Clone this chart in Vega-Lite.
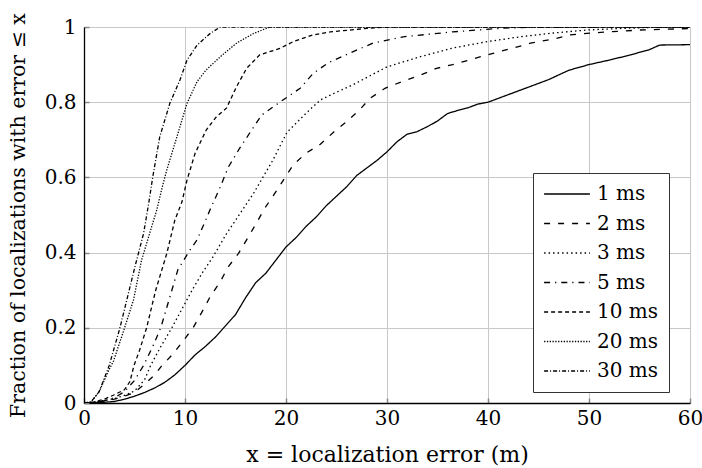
{
  "$schema": "https://vega.github.io/schema/vega-lite/v6.json",
  "width": 606,
  "height": 376,
  "autosize": {"type": "none"},
  "padding": {"left": 84, "top": 27, "right": 12, "bottom": 65},
  "background": "white",
  "config": {
    "view": {"stroke": null},
    "font": "DejaVu Serif",
    "axis": {
      "labelFont": "DejaVu Serif",
      "titleFont": "DejaVu Serif",
      "labelFontSize": 20,
      "titleFontSize": 22,
      "titleFontWeight": "normal",
      "labelColor": "black",
      "titleColor": "black",
      "gridColor": "#c8c8c8",
      "gridWidth": 1,
      "domainColor": "black",
      "domainWidth": 1.3,
      "tickColor": "#888888",
      "tickSize": -5,
      "tickWidth": 1.5
    },
    "legend": {
      "labelFont": "DejaVu Serif",
      "labelFontSize": 20,
      "labelColor": "black"
    }
  },
  "data": {
    "values": [
      {"s": "1 ms", "x": 0, "y": 0}, {"s": "1 ms", "x": 2, "y": 0.002}, {"s": "1 ms", "x": 3, "y": 0.004}, {"s": "1 ms", "x": 4, "y": 0.01}, {"s": "1 ms", "x": 5, "y": 0.018}, {"s": "1 ms", "x": 6, "y": 0.028}, {"s": "1 ms", "x": 7, "y": 0.04}, {"s": "1 ms", "x": 8, "y": 0.055}, {"s": "1 ms", "x": 9, "y": 0.075}, {"s": "1 ms", "x": 10, "y": 0.1}, {"s": "1 ms", "x": 11, "y": 0.128}, {"s": "1 ms", "x": 12, "y": 0.15}, {"s": "1 ms", "x": 13, "y": 0.175}, {"s": "1 ms", "x": 14, "y": 0.205}, {"s": "1 ms", "x": 15, "y": 0.235}, {"s": "1 ms", "x": 16, "y": 0.28}, {"s": "1 ms", "x": 17, "y": 0.32}, {"s": "1 ms", "x": 18, "y": 0.345}, {"s": "1 ms", "x": 19, "y": 0.38}, {"s": "1 ms", "x": 20, "y": 0.415}, {"s": "1 ms", "x": 21, "y": 0.44}, {"s": "1 ms", "x": 22, "y": 0.47}, {"s": "1 ms", "x": 23, "y": 0.495}, {"s": "1 ms", "x": 24, "y": 0.525}, {"s": "1 ms", "x": 25, "y": 0.55}, {"s": "1 ms", "x": 26, "y": 0.575}, {"s": "1 ms", "x": 27, "y": 0.605}, {"s": "1 ms", "x": 28, "y": 0.625}, {"s": "1 ms", "x": 29, "y": 0.645}, {"s": "1 ms", "x": 30, "y": 0.668}, {"s": "1 ms", "x": 31, "y": 0.695}, {"s": "1 ms", "x": 32, "y": 0.715}, {"s": "1 ms", "x": 33, "y": 0.722}, {"s": "1 ms", "x": 34, "y": 0.735}, {"s": "1 ms", "x": 35, "y": 0.75}, {"s": "1 ms", "x": 36, "y": 0.77}, {"s": "1 ms", "x": 37, "y": 0.778}, {"s": "1 ms", "x": 38, "y": 0.785}, {"s": "1 ms", "x": 39, "y": 0.795}, {"s": "1 ms", "x": 40, "y": 0.8}, {"s": "1 ms", "x": 42, "y": 0.82}, {"s": "1 ms", "x": 44, "y": 0.84}, {"s": "1 ms", "x": 45, "y": 0.85}, {"s": "1 ms", "x": 46, "y": 0.86}, {"s": "1 ms", "x": 48, "y": 0.885}, {"s": "1 ms", "x": 50, "y": 0.9}, {"s": "1 ms", "x": 52, "y": 0.912}, {"s": "1 ms", "x": 54, "y": 0.925}, {"s": "1 ms", "x": 56, "y": 0.94}, {"s": "1 ms", "x": 57, "y": 0.952}, {"s": "1 ms", "x": 60, "y": 0.953},

      {"s": "2 ms", "x": 0, "y": 0}, {"s": "2 ms", "x": 1, "y": 0.002}, {"s": "2 ms", "x": 2, "y": 0.005}, {"s": "2 ms", "x": 3, "y": 0.01}, {"s": "2 ms", "x": 4, "y": 0.018}, {"s": "2 ms", "x": 5, "y": 0.028}, {"s": "2 ms", "x": 6, "y": 0.05}, {"s": "2 ms", "x": 7, "y": 0.075}, {"s": "2 ms", "x": 7.7, "y": 0.099}, {"s": "2 ms", "x": 8.8, "y": 0.13}, {"s": "2 ms", "x": 9.9, "y": 0.168}, {"s": "2 ms", "x": 10.8, "y": 0.2}, {"s": "2 ms", "x": 11.7, "y": 0.243}, {"s": "2 ms", "x": 12.5, "y": 0.283}, {"s": "2 ms", "x": 13.5, "y": 0.323}, {"s": "2 ms", "x": 14.3, "y": 0.363}, {"s": "2 ms", "x": 15.3, "y": 0.398}, {"s": "2 ms", "x": 16.1, "y": 0.434}, {"s": "2 ms", "x": 17.1, "y": 0.48}, {"s": "2 ms", "x": 17.9, "y": 0.518}, {"s": "2 ms", "x": 19.1, "y": 0.566}, {"s": "2 ms", "x": 20.7, "y": 0.633}, {"s": "2 ms", "x": 22, "y": 0.665}, {"s": "2 ms", "x": 23.4, "y": 0.688}, {"s": "2 ms", "x": 24.7, "y": 0.72}, {"s": "2 ms", "x": 26, "y": 0.748}, {"s": "2 ms", "x": 27.3, "y": 0.78}, {"s": "2 ms", "x": 28.3, "y": 0.81}, {"s": "2 ms", "x": 29.8, "y": 0.837}, {"s": "2 ms", "x": 31.5, "y": 0.855}, {"s": "2 ms", "x": 33.3, "y": 0.872}, {"s": "2 ms", "x": 34.9, "y": 0.89}, {"s": "2 ms", "x": 36.5, "y": 0.9}, {"s": "2 ms", "x": 38.5, "y": 0.915}, {"s": "2 ms", "x": 40.5, "y": 0.93}, {"s": "2 ms", "x": 42.5, "y": 0.944}, {"s": "2 ms", "x": 44.2, "y": 0.957}, {"s": "2 ms", "x": 46.5, "y": 0.968}, {"s": "2 ms", "x": 48.1, "y": 0.979}, {"s": "2 ms", "x": 50.8, "y": 0.985}, {"s": "2 ms", "x": 55, "y": 0.992}, {"s": "2 ms", "x": 60, "y": 0.996},

      {"s": "3 ms", "x": 0, "y": 0}, {"s": "3 ms", "x": 1, "y": 0.002}, {"s": "3 ms", "x": 2, "y": 0.006}, {"s": "3 ms", "x": 3, "y": 0.012}, {"s": "3 ms", "x": 4, "y": 0.02}, {"s": "3 ms", "x": 5, "y": 0.032}, {"s": "3 ms", "x": 6, "y": 0.062}, {"s": "3 ms", "x": 6.6, "y": 0.1}, {"s": "3 ms", "x": 7.6, "y": 0.15}, {"s": "3 ms", "x": 8.7, "y": 0.2}, {"s": "3 ms", "x": 9.7, "y": 0.25}, {"s": "3 ms", "x": 10.7, "y": 0.3}, {"s": "3 ms", "x": 11.8, "y": 0.35}, {"s": "3 ms", "x": 12.8, "y": 0.39}, {"s": "3 ms", "x": 14.1, "y": 0.45}, {"s": "3 ms", "x": 15.1, "y": 0.49}, {"s": "3 ms", "x": 16.8, "y": 0.558}, {"s": "3 ms", "x": 18.7, "y": 0.646}, {"s": "3 ms", "x": 20.1, "y": 0.72}, {"s": "3 ms", "x": 22, "y": 0.771}, {"s": "3 ms", "x": 23.4, "y": 0.806}, {"s": "3 ms", "x": 24.4, "y": 0.819}, {"s": "3 ms", "x": 26.6, "y": 0.846}, {"s": "3 ms", "x": 30, "y": 0.894}, {"s": "3 ms", "x": 33.3, "y": 0.921}, {"s": "3 ms", "x": 36.5, "y": 0.944}, {"s": "3 ms", "x": 39.9, "y": 0.961}, {"s": "3 ms", "x": 43.2, "y": 0.974}, {"s": "3 ms", "x": 46.5, "y": 0.984}, {"s": "3 ms", "x": 49.8, "y": 0.992}, {"s": "3 ms", "x": 53, "y": 0.996}, {"s": "3 ms", "x": 56.3, "y": 0.999}, {"s": "3 ms", "x": 60, "y": 1},

      {"s": "5 ms", "x": 0, "y": 0}, {"s": "5 ms", "x": 1, "y": 0.002}, {"s": "5 ms", "x": 2, "y": 0.006}, {"s": "5 ms", "x": 3, "y": 0.014}, {"s": "5 ms", "x": 4, "y": 0.03}, {"s": "5 ms", "x": 5, "y": 0.06}, {"s": "5 ms", "x": 5.9, "y": 0.1}, {"s": "5 ms", "x": 6.8, "y": 0.15}, {"s": "5 ms", "x": 7.6, "y": 0.2}, {"s": "5 ms", "x": 8.7, "y": 0.3}, {"s": "5 ms", "x": 9.3, "y": 0.355}, {"s": "5 ms", "x": 10.5, "y": 0.407}, {"s": "5 ms", "x": 11.2, "y": 0.434}, {"s": "5 ms", "x": 12.1, "y": 0.49}, {"s": "5 ms", "x": 12.5, "y": 0.515}, {"s": "5 ms", "x": 13.5, "y": 0.575}, {"s": "5 ms", "x": 14.3, "y": 0.628}, {"s": "5 ms", "x": 15.4, "y": 0.677}, {"s": "5 ms", "x": 16.6, "y": 0.726}, {"s": "5 ms", "x": 17.6, "y": 0.766}, {"s": "5 ms", "x": 19.7, "y": 0.806}, {"s": "5 ms", "x": 21.4, "y": 0.837}, {"s": "5 ms", "x": 22.7, "y": 0.877}, {"s": "5 ms", "x": 24.2, "y": 0.905}, {"s": "5 ms", "x": 26.6, "y": 0.934}, {"s": "5 ms", "x": 28.6, "y": 0.957}, {"s": "5 ms", "x": 31.6, "y": 0.974}, {"s": "5 ms", "x": 36.5, "y": 0.987}, {"s": "5 ms", "x": 41.5, "y": 0.997}, {"s": "5 ms", "x": 45, "y": 1}, {"s": "5 ms", "x": 60, "y": 1},

      {"s": "10 ms", "x": 0, "y": 0}, {"s": "10 ms", "x": 1, "y": 0.003}, {"s": "10 ms", "x": 2, "y": 0.01}, {"s": "10 ms", "x": 3, "y": 0.022}, {"s": "10 ms", "x": 4, "y": 0.035}, {"s": "10 ms", "x": 4.55, "y": 0.057}, {"s": "10 ms", "x": 4.95, "y": 0.1}, {"s": "10 ms", "x": 5.5, "y": 0.14}, {"s": "10 ms", "x": 6.2, "y": 0.2}, {"s": "10 ms", "x": 7.1, "y": 0.3}, {"s": "10 ms", "x": 8.2, "y": 0.398}, {"s": "10 ms", "x": 9, "y": 0.487}, {"s": "10 ms", "x": 9.7, "y": 0.535}, {"s": "10 ms", "x": 10.2, "y": 0.593}, {"s": "10 ms", "x": 11, "y": 0.664}, {"s": "10 ms", "x": 12.1, "y": 0.726}, {"s": "10 ms", "x": 13.1, "y": 0.761}, {"s": "10 ms", "x": 14.1, "y": 0.784}, {"s": "10 ms", "x": 15.1, "y": 0.841}, {"s": "10 ms", "x": 16.1, "y": 0.89}, {"s": "10 ms", "x": 17.4, "y": 0.926}, {"s": "10 ms", "x": 19.4, "y": 0.943}, {"s": "10 ms", "x": 20.7, "y": 0.961}, {"s": "10 ms", "x": 22.7, "y": 0.979}, {"s": "10 ms", "x": 24.4, "y": 0.987}, {"s": "10 ms", "x": 28.3, "y": 0.997}, {"s": "10 ms", "x": 30, "y": 1}, {"s": "10 ms", "x": 60, "y": 1},

      {"s": "20 ms", "x": 0, "y": 0}, {"s": "20 ms", "x": 0.7, "y": 0.003}, {"s": "20 ms", "x": 1.5, "y": 0.03}, {"s": "20 ms", "x": 2.5, "y": 0.09}, {"s": "20 ms", "x": 2.9, "y": 0.11}, {"s": "20 ms", "x": 3.9, "y": 0.19}, {"s": "20 ms", "x": 4.9, "y": 0.274}, {"s": "20 ms", "x": 5.7, "y": 0.38}, {"s": "20 ms", "x": 6.7, "y": 0.469}, {"s": "20 ms", "x": 7.2, "y": 0.513}, {"s": "20 ms", "x": 7.8, "y": 0.58}, {"s": "20 ms", "x": 8.2, "y": 0.62}, {"s": "20 ms", "x": 9.2, "y": 0.708}, {"s": "20 ms", "x": 10.2, "y": 0.797}, {"s": "20 ms", "x": 11.2, "y": 0.855}, {"s": "20 ms", "x": 12.1, "y": 0.886}, {"s": "20 ms", "x": 13.5, "y": 0.921}, {"s": "20 ms", "x": 15.1, "y": 0.957}, {"s": "20 ms", "x": 16.8, "y": 0.983}, {"s": "20 ms", "x": 18.4, "y": 1}, {"s": "20 ms", "x": 60, "y": 1},

      {"s": "30 ms", "x": 0, "y": 0}, {"s": "30 ms", "x": 0.7, "y": 0.003}, {"s": "30 ms", "x": 1.5, "y": 0.03}, {"s": "30 ms", "x": 2.5, "y": 0.1}, {"s": "30 ms", "x": 3.56, "y": 0.2}, {"s": "30 ms", "x": 5.05, "y": 0.363}, {"s": "30 ms", "x": 5.9, "y": 0.451}, {"s": "30 ms", "x": 6.4, "y": 0.53}, {"s": "30 ms", "x": 6.8, "y": 0.6}, {"s": "30 ms", "x": 7.5, "y": 0.708}, {"s": "30 ms", "x": 8.5, "y": 0.797}, {"s": "30 ms", "x": 9.5, "y": 0.859}, {"s": "30 ms", "x": 10.2, "y": 0.912}, {"s": "30 ms", "x": 11.2, "y": 0.952}, {"s": "30 ms", "x": 12.5, "y": 0.983}, {"s": "30 ms", "x": 13.5, "y": 1}, {"s": "30 ms", "x": 60, "y": 1}
    ]
  },
  "mark": {"type": "line", "color": "black", "strokeWidth": 1.3, "interpolate": "linear", "clip": true},
  "encoding": {
    "x": {
      "field": "x", "type": "quantitative",
      "scale": {"domain": [0, 60], "nice": false},
      "axis": {"values": [0, 10, 20, 30, 40, 50, 60], "title": "x = localization error (m)", "labelPadding": 10, "titlePadding": 16, "labelFlush": false}
    },
    "y": {
      "field": "y", "type": "quantitative",
      "scale": {"domain": [0, 1], "nice": false},
      "axis": {"values": [0, 0.2, 0.4, 0.6, 0.8, 1], "labelExpr": "datum.value == 0 ? '0' : datum.value == 1 ? '1' : format(datum.value, '.1f')", "title": "Fraction of localizations with error ≤ x", "titleFontSize": 20.5, "labelPadding": 13, "titlePadding": 16, "labelFlush": false}
    },
    "strokeDash": {
      "field": "s", "type": "nominal",
      "scale": {
        "domain": ["1 ms", "2 ms", "3 ms", "5 ms", "10 ms", "20 ms", "30 ms"],
        "range": [[1, 0], [6, 8], [1.5, 3], [6, 5, 1.2, 5], [4, 3], [1.3, 1.5], [4, 2, 1, 2]]
      },
      "legend": {
        "title": null,
        "orient": "none",
        "legendX": 449,
        "legendY": 146,
        "symbolType": "stroke",
        "symbolSize": 2100,
        "symbolStrokeWidth": 1.3,
        "symbolStrokeColor": "black",
        "clipHeight": 22,
        "labelOffset": 6,
        "rowPadding": 7.5,
        "padding": 10,
        "strokeColor": "#333333",
        "fillColor": "white",
        "cornerRadius": 0
      }
    }
  }
}
